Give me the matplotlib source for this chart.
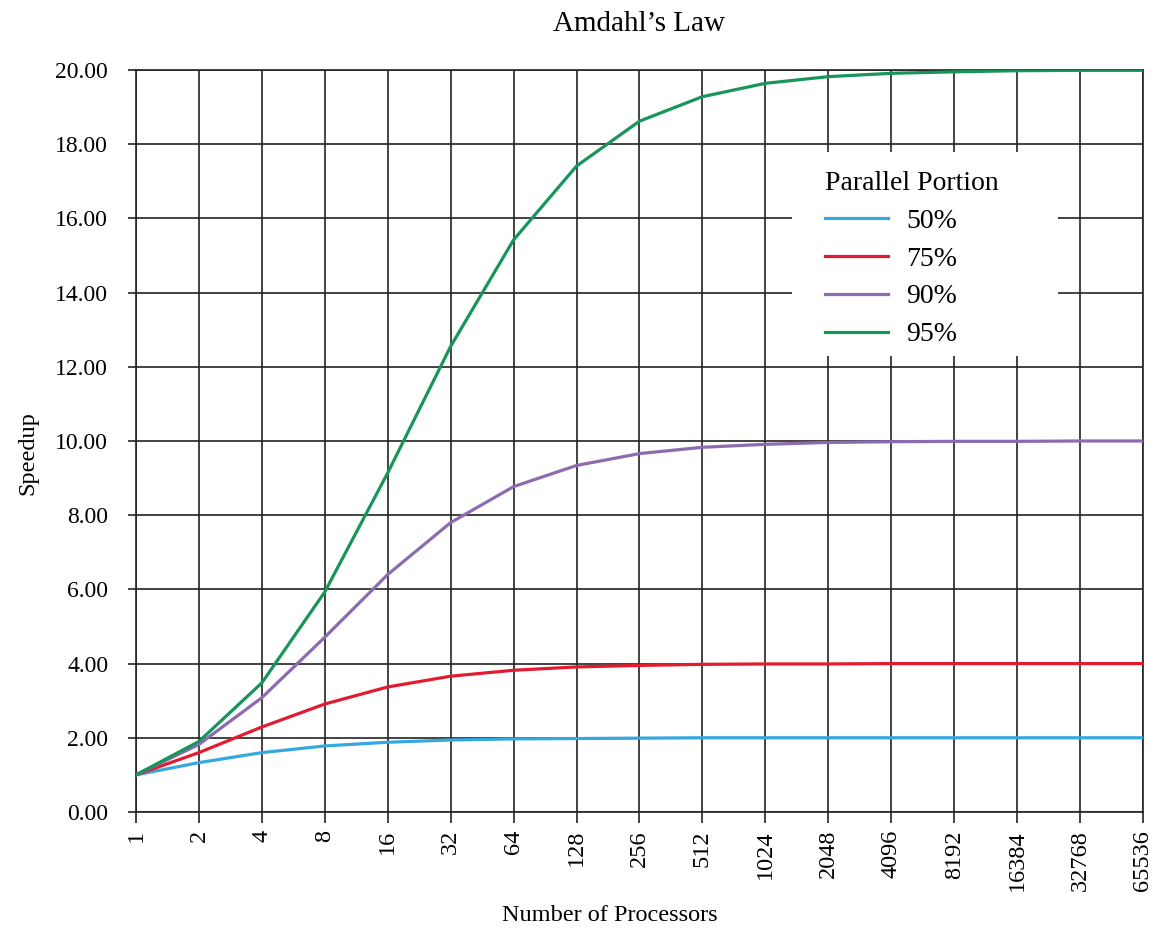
import numpy as np
import matplotlib.pyplot as plt
from matplotlib.patches import Rectangle
from matplotlib.ticker import FormatStrFormatter

plt.rcParams['font.family'] = ['Liberation Serif', 'DejaVu Serif']

# Number of processors (x categories)
processors = ['1', '2', '4', '8', '16', '32', '64', '128', '256', '512',
              '1024', '2048', '4096', '8192', '16384', '32768', '65536']

# Speedup for each parallel portion
speedup_50 = [1.00, 1.33, 1.60, 1.78, 1.88, 1.94, 1.97, 1.98, 1.99, 2.00,
              2.00, 2.00, 2.00, 2.00, 2.00, 2.00, 2.00]
speedup_75 = [1.00, 1.60, 2.29, 2.91, 3.37, 3.66, 3.82, 3.91, 3.95, 3.98,
              3.99, 3.99, 4.00, 4.00, 4.00, 4.00, 4.00]
speedup_90 = [1.00, 1.82, 3.08, 4.71, 6.40, 7.80, 8.77, 9.34, 9.66, 9.83,
              9.91, 9.96, 9.98, 9.99, 9.99, 10.00, 10.00]
speedup_95 = [1.00, 1.90, 3.48, 5.93, 9.14, 12.55, 15.42, 17.41, 18.62, 19.28,
              19.64, 19.82, 19.91, 19.95, 19.98, 19.99, 19.99]

series = [('50%', speedup_50, '#35a8e0'),
          ('75%', speedup_75, '#e41b2f'),
          ('90%', speedup_90, '#8c6bb1'),
          ('95%', speedup_95, '#17955a')]

fig = plt.figure(figsize=(11.6, 9.33), dpi=100)
ax = fig.add_axes([0.1172, 0.1297, 0.8681, 0.7953])

x = np.arange(len(processors))
for label, values, color in series:
    ax.plot(x, values, color=color, lw=2.3, label=label, zorder=3)

ax.set_xlim(0, len(processors) - 1)
ax.set_ylim(0, 20)
ax.set_xticks(x, processors, rotation=90)
ax.set_yticks(np.arange(0, 21, 2))
ax.yaxis.set_major_formatter(FormatStrFormatter('%.2f'))
ax.tick_params(axis='y', labelsize=17, length=6, width=1.2, color='#222222', pad=14)
ax.tick_params(axis='x', labelsize=17.5, length=8, width=1.2, color='#222222', pad=5)

ax.grid(True, color='#222222', lw=1.2, zorder=1)
for s in ax.spines.values():
    s.set_color('#222222')
    s.set_linewidth(1.2)

ax.set_title("Amdahl\u2019s Law", fontsize=21, pad=28)
ax.set_ylabel('Speedup', fontsize=17.5)
ax.yaxis.set_label_coords(-0.097, 0.484)
ax.set_xlabel('Number of Processors', fontsize=17.5)
ax.xaxis.set_label_coords(0.4707, -0.125)

# white panel behind the legend, hiding the grid
ax.add_patch(Rectangle((0.6514, 0.6146), 0.2642, 0.2749, transform=ax.transAxes,
                       facecolor='white', edgecolor='none', zorder=4))

leg = ax.legend(title='Parallel Portion', loc='upper left',
                bbox_to_anchor=(0.659, 0.898), fontsize=20, title_fontsize=20,
                frameon=False, handlelength=2.3, handletextpad=0.65,
                labelspacing=0.45, borderpad=0.4, alignment='left')
leg.set_zorder(5)

fig.savefig('out.png', dpi=100)
